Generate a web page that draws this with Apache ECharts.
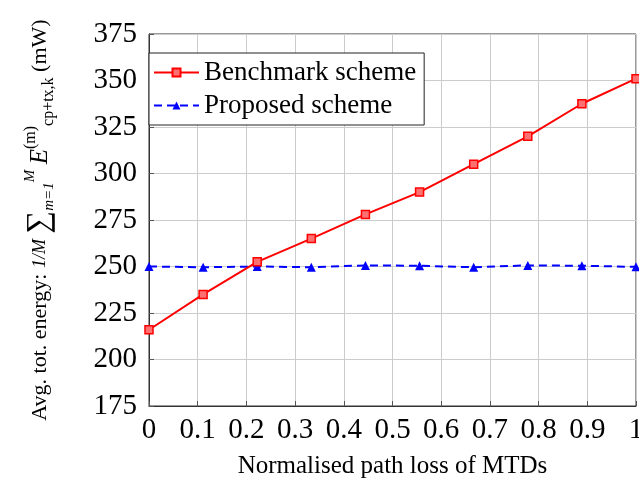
<!DOCTYPE html>
<html>
<head>
<meta charset="utf-8">
<script src="https://cdn.jsdelivr.net/npm/echarts@6/dist/echarts.min.js"></script>
<style>
  html, body { margin: 0; padding: 0; background: #fff; }
  #chart { width: 639px; height: 480px; }
</style>
</head>
<body>
<div id="chart"></div>
<script>
// x positions: 10 points between 0 and 1
var pathLoss = [0, 0.1111, 0.2222, 0.3333, 0.4444, 0.5556, 0.6667, 0.7778, 0.8889, 1];
var benchmark = [216, 235, 252.5, 265, 278, 290, 305, 320, 337.5, 351];
var proposed = [250, 249.6, 250, 249.6, 250.6, 250.4, 249.6, 250.6, 250.4, 249.8];
var seriesNames = ['Benchmark scheme', 'Proposed scheme'];

var font = 'Liberation Serif';

function pairs(xs, ys) {
	var out = [];
	for (var i = 0; i < xs.length; i++) out.push([xs[i], ys[i]]);
	return out;
}

var chart = echarts.init(document.getElementById('chart'));
chart.setOption({
	animation: false,
	textStyle: { fontFamily: font, color: '#000' },
	grid: {
		left: 149, right: 3, top: 34, bottom: 74,
		outerBoundsMode: 'none',
		containLabel: false,
		show: true, borderColor: '#333', borderWidth: 1
	},
	legend: {
		orient: 'vertical',
		left: 149, top: 53,
		backgroundColor: '#fff',
		borderColor: '#222',
		borderWidth: 1,
		borderRadius: 0,
		padding: [6, 8, 6, 4],
		itemGap: 6,
		itemWidth: 45,
		itemHeight: 10,
		textStyle: { fontFamily: font, fontSize: 27, color: '#000' },
		data: seriesNames
	},
	xAxis: {
		type: 'value',
		min: 0, max: 1, interval: 0.1,
		name: 'Normalised path loss of MTDs',
		nameLocation: 'middle',
		nameGap: 48,
		nameTextStyle: { fontFamily: font, fontSize: 25, color: '#000' },
		axisLine: { show: true, lineStyle: { color: '#333' } },
		axisTick: { show: true, inside: true, length: 5, lineStyle: { color: '#555' } },
		axisLabel: { fontFamily: font, fontSize: 29, color: '#000', margin: 10 },
		splitLine: { show: true, lineStyle: { color: '#ccc', width: 1 } }
	},
	yAxis: {
		type: 'value',
		min: 175, max: 375, interval: 25,
		name: 'Avg. tot. energy: {f|1/M} {s|∑}{lo|m=1}{hi|M} {e|E}{sup|(m)}{sub|cp+tx,k} (mW)',
		nameLocation: 'middle',
		nameRotate: 90,
		nameGap: 92,
		nameTextStyle: {
			fontFamily: font, fontSize: 22, color: '#000', lineHeight: 34,
			rich: {
				f: { fontFamily: font, fontSize: 18, fontStyle: 'italic', lineHeight: 34 },
				s: { fontFamily: font, fontSize: 32, lineHeight: 34 },
				lo: { fontFamily: font, fontSize: 15, fontStyle: 'italic', lineHeight: 34, verticalAlign: 'bottom' },
				hi: { fontFamily: font, fontSize: 15, fontStyle: 'italic', lineHeight: 34, verticalAlign: 'top' },
				e: { fontFamily: font, fontSize: 25, fontStyle: 'italic', lineHeight: 34 },
				sup: { fontFamily: font, fontSize: 16, lineHeight: 34, verticalAlign: 'top' },
				sub: { fontFamily: font, fontSize: 16, lineHeight: 34, verticalAlign: 'bottom' }
			}
		},
		axisLine: { show: true, lineStyle: { color: '#333' } },
		axisTick: { show: true, inside: true, length: 5, lineStyle: { color: '#555' } },
		axisLabel: { fontFamily: font, fontSize: 29, color: '#000', margin: 12 },
		splitLine: { show: true, lineStyle: { color: '#ccc', width: 1 } }
	},
	series: [{
		name: seriesNames[0],
		type: 'line',
		data: pairs(pathLoss, benchmark),
		symbol: 'rect',
		symbolSize: 8,
		lineStyle: { color: '#ff0000', width: 2 },
		itemStyle: { color: '#ff7070', borderColor: '#ff0000', borderWidth: 1.5 },
		z: 3
	}, {
		name: seriesNames[1],
		type: 'line',
		data: pairs(pathLoss, proposed),
		symbol: 'triangle',
		symbolSize: 9,
		lineStyle: { color: '#0000ff', width: 2, type: [8, 5] },
		itemStyle: { color: '#0000ff' },
		z: 2
	}]
});
</script>
</body>
</html>
